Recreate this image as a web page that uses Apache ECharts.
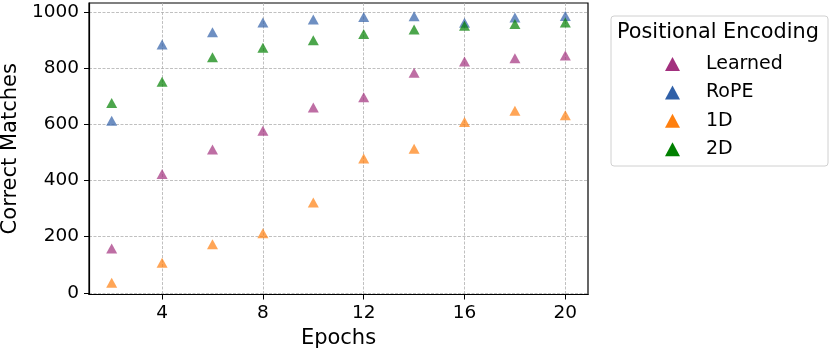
<!DOCTYPE html>
<html><head><meta charset="utf-8">
<script src="https://cdn.jsdelivr.net/npm/echarts@6/dist/echarts.min.js"></script>
<style>html,body{margin:0;padding:0;background:#fff}#c{width:830px;height:351px}</style>
</head><body><div id="c"></div>
<script>
const epochs = [2, 4, 6, 8, 10, 12, 14, 16, 18, 20];
const learned = [158, 423, 510, 577, 660, 696, 784, 824, 835, 845];
const rope = [613, 884, 928, 963, 973, 982, 985, 962, 980, 986];
const oneD = [36, 107, 173, 212, 322, 478, 513, 608, 648, 632];
const twoD = [676, 752, 839, 873, 899, 922, 938, 951, 957, 963];
const seriesNames = ['Learned', 'RoPE', '1D', '2D'];
const xTicks = [4, 8, 12, 16, 20];
const yTicks = [0, 200, 400, 600, 800, 1000];

const colors = ['#a2307e', '#3060a8', '#ff7f0e', '#008000'];
const values = [learned, rope, oneD, twoD];
const FONT = 'DejaVu Sans';

const chart = echarts.init(document.getElementById('c'), null, {renderer: 'canvas'});
const gridLine = {show: true, lineStyle: {color: '#b0b0b0', type: [3, 1.5], width: 0.8}};
chart.setOption({
  animation: false,
  textStyle: {fontFamily: FONT},
  grid: {left: 89, top: 3, width: 499, height: 291.5, outerBoundsMode: 'none', containLabel: false,
         show: true, borderColor: '#000', borderWidth: 1.2, backgroundColor: 'transparent'},
  xAxis: {
    type: 'value', min: 1.1, max: 20.9,
    name: 'Epochs', nameLocation: 'middle', nameGap: 34,
    nameTextStyle: {fontSize: 21, color: '#000', fontFamily: FONT},
    axisLine: {show: true, onZero: false, lineStyle: {color: '#000', width: 1.2}},
    axisTick: {show: true, customValues: xTicks, length: 5, lineStyle: {color: '#000', width: 1}},
    axisLabel: {customValues: xTicks, fontSize: 18.5, color: '#000', margin: 9, fontFamily: FONT,
                formatter: v => String(v)},
    splitLine: gridLine
  },
  yAxis: {
    type: 'value', min: -6, max: 1032,
    name: 'Correct Matches', nameLocation: 'middle', nameGap: 62, nameRotate: 90,
    nameTextStyle: {fontSize: 21, color: '#000', fontFamily: FONT},
    axisLine: {show: true, onZero: false, lineStyle: {color: '#000', width: 1.2}},
    axisTick: {show: true, customValues: yTicks, length: 5, lineStyle: {color: '#000', width: 1}},
    axisLabel: {customValues: yTicks, fontSize: 18.5, color: '#000', margin: 10, fontFamily: FONT,
                formatter: v => String(v)},
    splitLine: gridLine
  },
  title: {
    text: 'Positional Encoding', left: 617, top: 22.5, padding: 0,
    textStyle: {fontSize: 20.8, fontWeight: 'normal', color: '#000', fontFamily: FONT}
  },
  graphic: [{
    type: 'rect', shape: {x: 611, y: 16, width: 217, height: 150, r: 3},
    style: {fill: '#fff', stroke: '#d0d0d0', lineWidth: 1}, z: -1
  }],
  legend: {
    orient: 'vertical', left: 665, top: 54.5, itemGap: 9.4, padding: 0,
    itemWidth: 15, itemHeight: 14, icon: 'triangle',
    itemStyle: {opacity: 1},
    textStyle: {fontSize: 19, color: '#000', padding: [0, 0, 0, 21], fontFamily: FONT},
    data: seriesNames
  },
  series: seriesNames.map((n, i) => ({
    name: n, type: 'scatter', symbol: 'triangle', symbolSize: [11, 10],
    itemStyle: {color: colors[i], opacity: 0.7},
    data: epochs.map((e, j) => [e, values[i][j]])
  }))
});
</script></body></html>
